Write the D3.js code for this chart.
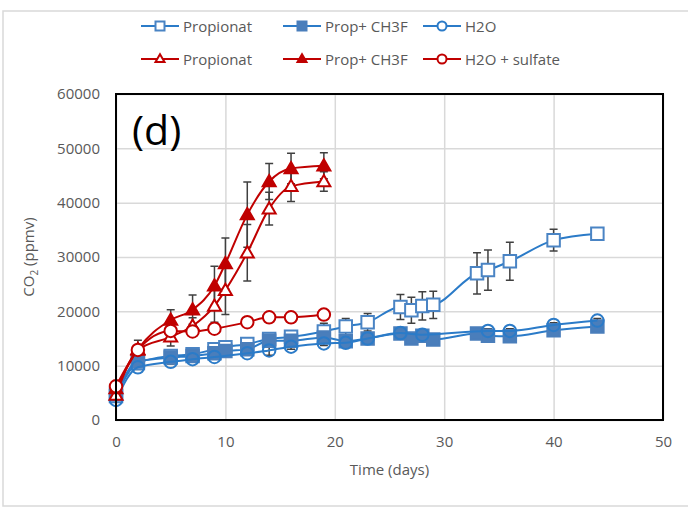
<!DOCTYPE html>
<html>
<head>
<meta charset="utf-8">
<script src="https://cdn.jsdelivr.net/npm/d3@7"></script>
<style>
  body { margin: 0; background: #fff; }
  text { font-family: "Open Sans", "Liberation Sans", sans-serif; }
</style>
</head>
<body>
<div id="chart"></div>
<script>
// days sampled
var blueDays = [0, 2, 5, 7, 9, 10, 12, 14, 16, 19, 21, 23, 26, 27, 28, 29, 33, 34, 36, 40, 44];
var h2oDays = [0, 2, 5, 7, 9, 12, 14, 16, 19, 21, 23, 26, 28, 34, 36, 40, 44];
var redDays = [0, 2, 5, 7, 9, 10, 12, 14, 16, 19];
var sulfateDays = [0, 2, 5, 7, 9, 12, 14, 16, 19];

// CO2 (ppmv) values + error
var propBlue = [4400, 10500, 11800, 12100, 13000, 13400, 14000, 14900, 15300, 16300, 17200, 18000, 20800, 20200, 21000, 21200, 27000, 27600, 29200, 33100, 34300];
var propBlueErr = [500, 1000, 900, 900, 900, 1200, 1000, 1000, 1000, 1500, 1500, 1600, 2300, 2400, 2600, 2500, 3800, 3700, 3500, 2000, 700];
var ch3fBlue = [4800, 10800, 11500, 11800, 12300, 12700, 13000, 14600, 14600, 15200, 14500, 15000, 15900, 15000, 15500, 14800, 15900, 15500, 15400, 16500, 17200];
var ch3fBlueErr = [400, 700, 600, 600, 700, 900, 800, 900, 800, 900, 900, 800, 800, 800, 700, 700, 700, 700, 700, 800, 800];
var h2o = [3700, 9700, 10700, 11200, 11600, 12300, 12800, 13500, 14100, 14200, 15000, 16000, 15700, 16400, 16400, 17500, 18300];
var h2oErr = [300, 400, 400, 400, 400, 400, 900, 500, 400, 500, 400, 600, 500, 400, 400, 400, 400];
var propRed = [4600, 12900, 15300, 17300, 21000, 23900, 30800, 38900, 43000, 43900];
var propRedErr = [500, 800, 1700, 1500, 3000, 4500, 5200, 3000, 2800, 1800];
var ch3fRed = [5800, 13000, 18400, 20300, 24700, 28800, 37800, 43900, 46300, 46800];
var ch3fRedErr = [500, 1700, 1900, 2700, 3600, 4700, 6000, 3300, 2800, 2400];
var sulfate = [6200, 12900, 16400, 16300, 16800, 18000, 18900, 18900, 19400];
var sulfateErr = [400, 400, 400, 400, 400, 400, 400, 400, 400];

var xTicks = [0, 10, 20, 30, 40, 50];
var yTicks = [0, 10000, 20000, 30000, 40000, 50000, 60000];

var blue = "#2B7BC8", blueMark = "#4A84C4", red = "#C00000";

var series = [
  {name: "Propionat", days: blueDays, vals: propBlue, err: propBlueErr, color: blue, mark: "square", fill: "#fff", mstroke: blueMark},
  {name: "Prop+ CH3F", days: blueDays, vals: ch3fBlue, err: ch3fBlueErr, color: blue, mark: "square", fill: "#4A7EBB", mstroke: "#4A7EBB"},
  {name: "H2O", days: h2oDays, vals: h2o, err: h2oErr, color: blue, mark: "circle", fill: "none", mstroke: blue},
  {name: "Propionat", days: redDays, vals: propRed, err: propRedErr, color: red, mark: "triangle", fill: "#fff", mstroke: red},
  {name: "Prop+ CH3F", days: redDays, vals: ch3fRed, err: ch3fRedErr, color: red, mark: "triangle", fill: red, mstroke: red},
  {name: "H2O + sulfate", days: sulfateDays, vals: sulfate, err: sulfateErr, color: red, mark: "circle", fill: "#fff", mstroke: red}
];

var svgWidth = 688, svgHeight = 507;
var margin = {top: 94, right: 25, bottom: 87, left: 116};
var chartWidth = 663 - margin.left;
var chartHeight = 420 - margin.top;

var svg = d3.select("#chart").append("svg")
  .attr("width", svgWidth)
  .attr("height", svgHeight);

// outer chart border
svg.append("rect")
  .attr("x", 3).attr("y", 11)
  .attr("width", 700).attr("height", 495)
  .attr("fill", "none")
  .attr("stroke", "#d9d9d9")
  .attr("stroke-width", 1.5);

var chartGroup = svg.append("g")
  .attr("transform", `translate(${margin.left}, ${margin.top})`);

var xScale = d3.scaleLinear().domain([0, 50]).range([0, chartWidth]);
var yScale = d3.scaleLinear().domain([0, 60000]).range([chartHeight, 0]);

// gridlines
chartGroup.append("g")
  .call(d3.axisLeft(yScale).tickValues(yTicks).tickSize(-chartWidth).tickFormat(""))
  .call(g => g.select(".domain").remove())
  .selectAll("line").attr("stroke", "#d9d9d9").attr("stroke-width", 1.5);
chartGroup.append("g")
  .attr("transform", `translate(0, ${chartHeight})`)
  .call(d3.axisBottom(xScale).tickValues(xTicks).tickSize(-chartHeight).tickFormat(""))
  .call(g => g.select(".domain").remove())
  .selectAll("line").attr("stroke", "#d9d9d9").attr("stroke-width", 1.5);

// tick labels
var xAxis = chartGroup.append("g")
  .attr("transform", `translate(0, ${chartHeight})`)
  .call(d3.axisBottom(xScale).tickValues(xTicks).tickSize(0).tickPadding(16));
xAxis.select(".domain").remove();
xAxis.selectAll("text").attr("font-size", 15).attr("fill", "#595959")
  .attr("font-family", "'Open Sans', sans-serif");

var yAxis = chartGroup.append("g")
  .call(d3.axisLeft(yScale).tickValues(yTicks).tickSize(0).tickPadding(16).tickFormat(d3.format("d")));
yAxis.select(".domain").remove();
yAxis.selectAll("text").attr("font-size", 15).attr("fill", "#595959")
  .attr("font-family", "'Open Sans', sans-serif");

function symbolFor(s, size) {
  if (s.mark === "square") return d3.symbol(d3.symbolSquare, size * size)();
  if (s.mark === "triangle") return d3.symbol(d3.symbolTriangle, Math.sqrt(3) / 4 * size * size)();
  return d3.symbol(d3.symbolCircle, Math.PI * size * size / 4)();
}

var line = d3.line().x(d => xScale(d.x)).y(d => yScale(d.y)).curve(d3.curveMonotoneX);

var seriesPts = series.map(s => s.days.map((d, i) => ({x: d, y: s.vals[i], e: s.err[i]})));

// error bars underneath everything else
var errLayer = chartGroup.append("g");
seriesPts.forEach(function(pts) {
  errLayer.selectAll(null)
    .data(pts)
    .enter()
    .append("path")
    .attr("d", d => {
      var x = xScale(d.x), y1 = yScale(d.y - d.e), y2 = yScale(d.y + d.e);
      return `M${x},${y1}V${y2}M${x - 4},${y1}H${x + 4}M${x - 4},${y2}H${x + 4}`;
    })
    .attr("stroke", "#404040")
    .attr("stroke-width", 1.5)
    .attr("fill", "none");
});

series.forEach(function(s, k) {
  var pts = seriesPts[k];
  var g = chartGroup.append("g");

  g.append("path")
    .datum(pts)
    .attr("d", line)
    .attr("fill", "none")
    .attr("stroke", s.color)
    .attr("stroke-width", 2);

  var size = s.mark === "triangle" ? 13 : 12.5;
  g.selectAll(".mark")
    .data(pts)
    .enter()
    .append("path")
    .attr("transform", d => `translate(${xScale(d.x)}, ${yScale(d.y) + (s.mark === "triangle" ? 1 : 0)})`)
    .attr("d", symbolFor(s, size))
    .attr("fill", s.fill)
    .attr("stroke", s.mstroke)
    .attr("stroke-width", 2);
});

// plot area border
chartGroup.append("rect")
  .attr("width", chartWidth).attr("height", chartHeight)
  .attr("fill", "none")
  .attr("stroke", "#000")
  .attr("stroke-width", 2);

// panel label
chartGroup.append("text")
  .attr("x", 16).attr("y", 51)
  .attr("font-size", 41)
  .attr("font-family", "'Liberation Sans', Arial, sans-serif")
  .attr("fill", "#000")
  .text("(d)");

// axis titles
var yTitle = svg.append("text")
  .attr("transform", `translate(34, ${margin.top + chartHeight / 2}) rotate(-90)`)
  .attr("text-anchor", "middle")
  .attr("font-size", 15)
  .attr("fill", "#595959");
yTitle.append("tspan").text("CO");
yTitle.append("tspan").attr("font-size", 10).attr("dy", 4).text("2");
yTitle.append("tspan").attr("dy", -4).text(" (ppmv)");

svg.append("text")
  .attr("x", margin.left + chartWidth / 2)
  .attr("y", 475)
  .attr("text-anchor", "middle")
  .attr("font-size", 15)
  .attr("fill", "#595959")
  .text("Time (days)");

// legend
var legX = [141, 283, 423];
var legY = [26, 59];
series.forEach(function(s, i) {
  var x = legX[i % 3], y = legY[Math.floor(i / 3)];
  var lg = svg.append("g").attr("transform", `translate(${x}, ${y})`);
  lg.append("line").attr("x1", 0).attr("x2", 38)
    .attr("stroke", s.color).attr("stroke-width", 2);
  lg.append("path")
    .attr("transform", `translate(19, ${s.mark === "triangle" ? 0.5 : 0})`)
    .attr("d", symbolFor(s, 9))
    .attr("fill", s.fill === "none" ? "#fff" : s.fill)
    .attr("stroke", s.mstroke)
    .attr("stroke-width", 2);
  lg.append("text")
    .attr("x", 42).attr("y", 5.5)
    .attr("font-size", 15)
    .attr("fill", "#595959")
    .text(s.name);
});
</script>
</body>
</html>
